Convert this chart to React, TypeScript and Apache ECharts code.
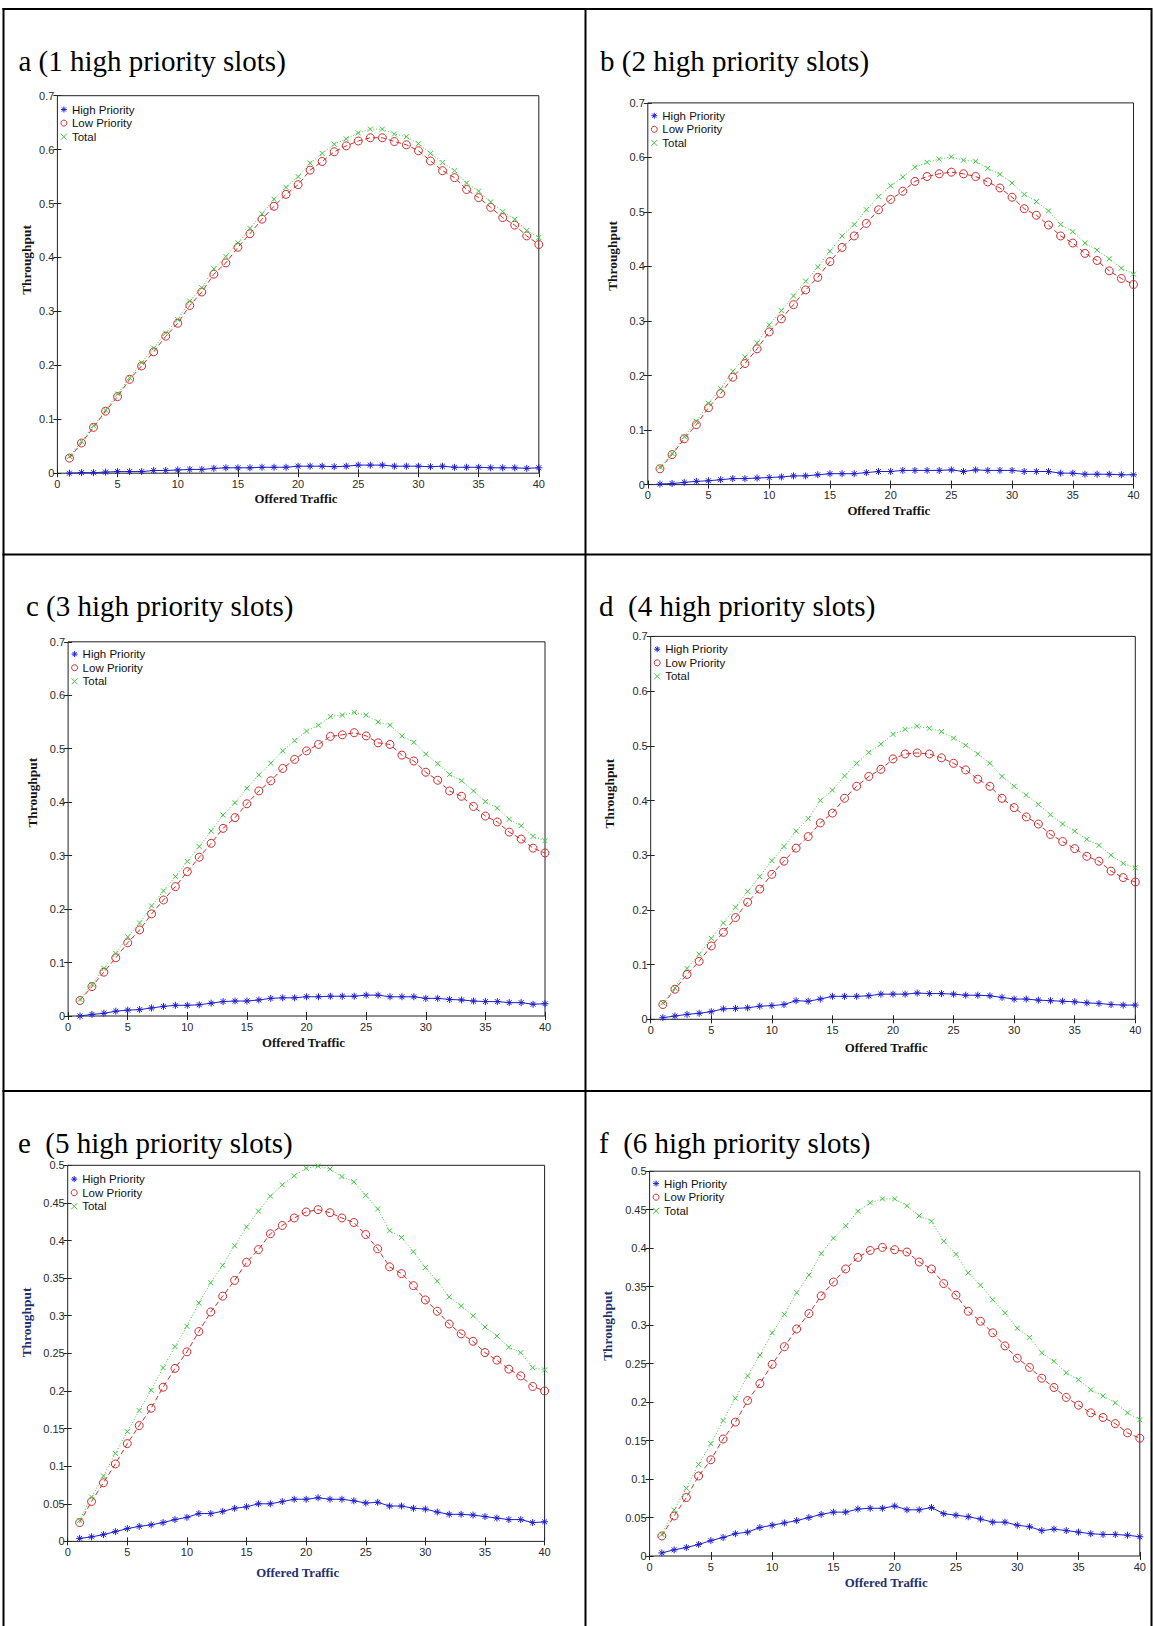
import React, { useEffect, useRef } from "react";
import * as echarts from "echarts";

// Offered traffic (x axis) shared by every panel
const OFFERED = [1, 2, 3, 4, 5, 6, 7, 8, 9, 10, 11, 12, 13, 14, 15, 16, 17, 18, 19, 20,
  21, 22, 23, 24, 25, 26, 27, 28, 29, 30, 31, 32, 33, 34, 35, 36, 37, 38, 39, 40];

// a — 1 high priority slot
const HIGH_A = [0.000, 0.001, 0.001, 0.002, 0.003, 0.003, 0.003, 0.005, 0.005, 0.006, 0.007, 0.007, 0.009, 0.010, 0.010, 0.010, 0.011, 0.011, 0.011, 0.013,
  0.013, 0.013, 0.012, 0.013, 0.015, 0.015, 0.015, 0.013, 0.013, 0.013, 0.012, 0.013, 0.011, 0.011, 0.011, 0.010, 0.010, 0.010, 0.009, 0.010];
const LOW_A = [0.028, 0.056, 0.085, 0.115, 0.142, 0.174, 0.199, 0.225, 0.254, 0.278, 0.311, 0.336, 0.369, 0.390, 0.419, 0.444, 0.471, 0.495, 0.517, 0.535,
  0.562, 0.578, 0.596, 0.607, 0.616, 0.622, 0.622, 0.615, 0.609, 0.598, 0.579, 0.561, 0.548, 0.526, 0.511, 0.493, 0.474, 0.460, 0.440, 0.424];
const TOTAL_A = [0.031, 0.059, 0.088, 0.117, 0.147, 0.177, 0.205, 0.232, 0.260, 0.285, 0.319, 0.344, 0.379, 0.402, 0.427, 0.454, 0.481, 0.508, 0.530, 0.550,
  0.575, 0.593, 0.610, 0.620, 0.631, 0.638, 0.638, 0.629, 0.624, 0.611, 0.593, 0.576, 0.561, 0.538, 0.523, 0.503, 0.485, 0.471, 0.450, 0.437];

// b — 2 high priority slots
const HIGH_B = [0.001, 0.002, 0.004, 0.006, 0.007, 0.009, 0.011, 0.011, 0.012, 0.013, 0.014, 0.016, 0.016, 0.018, 0.020, 0.020, 0.020, 0.022, 0.024, 0.024,
  0.026, 0.026, 0.026, 0.026, 0.027, 0.024, 0.027, 0.026, 0.026, 0.026, 0.024, 0.024, 0.024, 0.021, 0.021, 0.019, 0.019, 0.019, 0.018, 0.018];
const LOW_B = [0.029, 0.055, 0.084, 0.110, 0.141, 0.167, 0.197, 0.222, 0.249, 0.280, 0.304, 0.330, 0.357, 0.380, 0.409, 0.435, 0.456, 0.479, 0.504, 0.523,
  0.538, 0.556, 0.565, 0.570, 0.573, 0.570, 0.565, 0.555, 0.544, 0.527, 0.506, 0.494, 0.476, 0.456, 0.443, 0.424, 0.411, 0.392, 0.378, 0.367];
const TOTAL_B = [0.032, 0.057, 0.088, 0.116, 0.149, 0.176, 0.208, 0.234, 0.260, 0.293, 0.319, 0.346, 0.373, 0.399, 0.428, 0.456, 0.477, 0.504, 0.528, 0.548,
  0.564, 0.582, 0.591, 0.597, 0.601, 0.595, 0.593, 0.580, 0.569, 0.553, 0.532, 0.519, 0.502, 0.477, 0.464, 0.443, 0.430, 0.414, 0.397, 0.386];

// c — 3 high priority slots
const HIGH_C = [0.000, 0.003, 0.005, 0.009, 0.011, 0.012, 0.015, 0.018, 0.020, 0.020, 0.021, 0.024, 0.027, 0.028, 0.028, 0.030, 0.033, 0.034, 0.034, 0.036,
  0.036, 0.037, 0.037, 0.037, 0.039, 0.039, 0.036, 0.036, 0.036, 0.033, 0.033, 0.031, 0.030, 0.028, 0.027, 0.027, 0.025, 0.025, 0.022, 0.023];
const LOW_C = [0.029, 0.055, 0.082, 0.109, 0.137, 0.161, 0.191, 0.217, 0.242, 0.270, 0.297, 0.323, 0.351, 0.371, 0.397, 0.421, 0.440, 0.463, 0.480, 0.496,
  0.508, 0.523, 0.526, 0.530, 0.524, 0.511, 0.508, 0.488, 0.477, 0.456, 0.441, 0.421, 0.411, 0.392, 0.374, 0.363, 0.344, 0.331, 0.314, 0.305];
const TOTAL_C = [0.031, 0.059, 0.089, 0.117, 0.148, 0.174, 0.206, 0.234, 0.261, 0.289, 0.317, 0.346, 0.376, 0.399, 0.426, 0.451, 0.473, 0.496, 0.515, 0.533,
  0.544, 0.560, 0.563, 0.568, 0.563, 0.550, 0.544, 0.524, 0.512, 0.490, 0.472, 0.452, 0.440, 0.421, 0.401, 0.389, 0.368, 0.356, 0.336, 0.328];

// d — 4 high priority slots
const HIGH_D = [0.003, 0.006, 0.009, 0.011, 0.014, 0.019, 0.020, 0.021, 0.024, 0.025, 0.027, 0.034, 0.033, 0.037, 0.042, 0.042, 0.042, 0.043, 0.046, 0.046,
  0.046, 0.048, 0.047, 0.047, 0.046, 0.044, 0.044, 0.043, 0.040, 0.037, 0.037, 0.035, 0.034, 0.033, 0.032, 0.030, 0.029, 0.027, 0.026, 0.026];
const LOW_D = [0.027, 0.055, 0.082, 0.106, 0.134, 0.159, 0.186, 0.214, 0.238, 0.265, 0.289, 0.313, 0.334, 0.359, 0.377, 0.404, 0.426, 0.444, 0.457, 0.476,
  0.485, 0.487, 0.485, 0.478, 0.468, 0.456, 0.439, 0.426, 0.404, 0.387, 0.370, 0.357, 0.338, 0.325, 0.312, 0.298, 0.289, 0.271, 0.259, 0.251];
const TOTAL_D = [0.030, 0.057, 0.093, 0.119, 0.148, 0.176, 0.205, 0.234, 0.261, 0.290, 0.316, 0.344, 0.367, 0.400, 0.419, 0.445, 0.468, 0.488, 0.503, 0.521,
  0.530, 0.536, 0.532, 0.526, 0.514, 0.501, 0.485, 0.468, 0.444, 0.426, 0.410, 0.393, 0.374, 0.357, 0.344, 0.329, 0.318, 0.300, 0.285, 0.277];

// e — 5 high priority slots
const HIGH_E = [0.004, 0.006, 0.009, 0.013, 0.017, 0.020, 0.022, 0.025, 0.029, 0.032, 0.037, 0.037, 0.040, 0.044, 0.046, 0.050, 0.050, 0.053, 0.056, 0.056,
  0.058, 0.056, 0.056, 0.054, 0.051, 0.052, 0.047, 0.047, 0.044, 0.043, 0.039, 0.036, 0.036, 0.035, 0.033, 0.031, 0.029, 0.029, 0.025, 0.026];
const LOW_E = [0.025, 0.053, 0.078, 0.103, 0.130, 0.154, 0.177, 0.205, 0.230, 0.252, 0.279, 0.305, 0.326, 0.347, 0.371, 0.388, 0.409, 0.420, 0.430, 0.438,
  0.441, 0.437, 0.430, 0.424, 0.408, 0.389, 0.365, 0.356, 0.340, 0.321, 0.306, 0.289, 0.276, 0.266, 0.251, 0.241, 0.229, 0.220, 0.206, 0.200];
const TOTAL_E = [0.028, 0.059, 0.087, 0.117, 0.146, 0.174, 0.201, 0.231, 0.259, 0.286, 0.317, 0.344, 0.367, 0.393, 0.418, 0.439, 0.459, 0.474, 0.486, 0.496,
  0.499, 0.495, 0.485, 0.478, 0.460, 0.442, 0.413, 0.404, 0.385, 0.364, 0.346, 0.325, 0.313, 0.300, 0.285, 0.273, 0.258, 0.251, 0.231, 0.228];

// f — 6 high priority slots
const HIGH_F = [0.004, 0.008, 0.011, 0.015, 0.020, 0.024, 0.029, 0.031, 0.037, 0.040, 0.043, 0.046, 0.050, 0.054, 0.057, 0.057, 0.061, 0.062, 0.062, 0.065,
  0.060, 0.060, 0.063, 0.055, 0.053, 0.051, 0.048, 0.044, 0.044, 0.040, 0.038, 0.033, 0.035, 0.033, 0.031, 0.029, 0.028, 0.028, 0.027, 0.025];
const LOW_F = [0.026, 0.052, 0.076, 0.104, 0.125, 0.152, 0.174, 0.202, 0.224, 0.249, 0.272, 0.295, 0.315, 0.338, 0.356, 0.373, 0.388, 0.397, 0.401, 0.398,
  0.395, 0.382, 0.373, 0.354, 0.339, 0.318, 0.305, 0.290, 0.273, 0.257, 0.245, 0.231, 0.219, 0.206, 0.196, 0.186, 0.180, 0.172, 0.160, 0.153];
const TOTAL_F = [0.028, 0.060, 0.088, 0.119, 0.146, 0.176, 0.205, 0.234, 0.261, 0.290, 0.314, 0.342, 0.365, 0.393, 0.413, 0.429, 0.448, 0.459, 0.464, 0.464,
  0.455, 0.442, 0.435, 0.409, 0.392, 0.368, 0.352, 0.333, 0.316, 0.296, 0.284, 0.264, 0.253, 0.238, 0.229, 0.216, 0.208, 0.199, 0.186, 0.177];

const TITLES = [
  "a (1 high priority slots)",
  "b (2 high priority slots)",
  "c (3 high priority slots)",
  "d  (4 high priority slots)",
  "e  (5 high priority slots)",
  "f  (6 high priority slots)",
];
const SERIES_NAMES = ["High Priority", "Low Priority", "Total"];
const X_AXIS_NAME = "Offered Traffic";
const Y_AXIS_NAME = "Throughput";
const X_MAX = 40;
const X_STEP = 5;
const Y_MAX = [0.7, 0.7, 0.7, 0.7, 0.5, 0.5];
const Y_STEP = [0.1, 0.1, 0.1, 0.1, 0.05, 0.05];

const HIGH = [HIGH_A, HIGH_B, HIGH_C, HIGH_D, HIGH_E, HIGH_F];
const LOW = [LOW_A, LOW_B, LOW_C, LOW_D, LOW_E, LOW_F];
const TOTAL = [TOTAL_A, TOTAL_B, TOTAL_C, TOTAL_D, TOTAL_E, TOTAL_F];

// Page geometry of each cell: plot box, title, axis names, legend
const LAYOUT = [
  { l: 57.4, t: 95.7, r: 538.8, b: 473.2, tx: 18.4, ty: 70.7, yx: 26, yy: 260, xx: 296, xy: 499, lg: 14 },
  { l: 647.8, t: 102.9, r: 1133.5, b: 484.6, tx: 600, ty: 70.7, yx: 612.8, yy: 256, xx: 888.8, xy: 510.7, lg: 13 },
  { l: 68.1, t: 641.8, r: 545, b: 1016, tx: 26, ty: 616, yx: 32.5, yy: 792.7, xx: 303.5, xy: 1042.9, lg: 12.5 },
  { l: 650.7, t: 636.4, r: 1135.3, b: 1019.3, tx: 599, ty: 616, yx: 609.9, yy: 793.6, xx: 886.2, xy: 1047.9, lg: 13 },
  { l: 67.7, t: 1165.3, r: 544.6, b: 1541.4, tx: 18, ty: 1153, yx: 26, yy: 1322.5, xx: 297.7, xy: 1572.7, lg: 14 },
  { l: 649.6, t: 1171.2, r: 1139.8, b: 1556, tx: 599, ty: 1153, yx: 607.3, yy: 1326, xx: 886.2, xy: 1583.1, lg: 12.6 },
];
const NAME_COLORS = ["#151515", "#151515", "#151515", "#151515", "#22306c", "#22306c"];

const W = 1153;
const H = 1626;
const BLUE = "#1e1ed2";
const RED = "#d02c2c";
const GREEN = "#3cc63c";
const FRAME = "#222";
const STAR = "path://M0 5L10 5M5 0L5 10M1.5 1.5L8.5 8.5M8.5 1.5L1.5 8.5";
const CROSS = "path://M0 0L10 10M10 0L0 10";
const SANS = "'Liberation Sans', Arial, sans-serif";
const SERIF = "'Liberation Serif', 'Times New Roman', serif";

function buildOption() {
  const grid: any[] = [];
  const xAxis: any[] = [];
  const yAxis: any[] = [];
  const series: any[] = [];
  const legend: any[] = [];
  const graphic: any[] = [];

  const tick = { inside: true, length: 4, lineStyle: { color: FRAME, width: 1 } };
  const label = { color: "#2a2a2a", fontSize: 11, fontFamily: SANS };

  LAYOUT.forEach((L, i) => {
    grid.push({
      left: L.l, top: L.t, width: L.r - L.l, height: L.b - L.t,
      show: true, borderColor: FRAME, borderWidth: 1, backgroundColor: "#fff",
    });
    const xBase = { gridIndex: i, type: "value", min: 0, max: X_MAX, interval: X_STEP, axisLine: { show: false }, splitLine: { show: false }, axisTick: tick };
    xAxis.push({ ...xBase, position: "bottom", axisLabel: { ...label, margin: 5 } });
    xAxis.push({ ...xBase, position: "top", axisLabel: { show: false } });
    const yBase = { gridIndex: i, type: "value", min: 0, max: Y_MAX[i], interval: Y_STEP[i], axisLine: { show: false }, splitLine: { show: false }, axisTick: tick };
    yAxis.push({ ...yBase, position: "left", axisLabel: { ...label, margin: 3 } });
    yAxis.push({ ...yBase, position: "right", axisLabel: { show: false } });

    const pts = (vals: number[]) => OFFERED.map((x, k) => [x, vals[k]]);
    series.push({
      name: SERIES_NAMES[0], type: "line", xAxisIndex: 2 * i, yAxisIndex: 2 * i,
      data: pts(HIGH[i]), symbol: STAR, symbolSize: 7,
      itemStyle: { color: BLUE, borderColor: BLUE, borderWidth: 1 },
      lineStyle: { color: BLUE, width: 1 },
    });
    series.push({
      name: SERIES_NAMES[1], type: "line", xAxisIndex: 2 * i, yAxisIndex: 2 * i,
      data: pts(LOW[i]), symbol: "circle", symbolSize: 8,
      itemStyle: { color: "rgba(0,0,0,0)", borderColor: RED, borderWidth: 1 },
      lineStyle: { color: RED, width: 1, type: [5, 3] },
    });
    series.push({
      name: SERIES_NAMES[2], type: "line", xAxisIndex: 2 * i, yAxisIndex: 2 * i,
      data: pts(TOTAL[i]), symbol: CROSS, symbolSize: 5,
      itemStyle: { color: GREEN, borderColor: GREEN, borderWidth: 1 },
      lineStyle: { color: GREEN, width: 1, type: [1, 2] },
    });

    legend.push({
      orient: "vertical", left: L.l + 3, top: L.t + L.lg - 6.7, padding: 0,
      itemGap: 0.6, itemWidth: 6, itemHeight: 6, selectedMode: false,
      textStyle: { fontSize: 11.5, fontFamily: SANS, color: "#111", lineHeight: 13 },
      data: [
        { name: SERIES_NAMES[0], icon: STAR, itemStyle: { color: BLUE, borderColor: BLUE, borderWidth: 1 } },
        { name: SERIES_NAMES[1], icon: "circle", itemStyle: { color: "rgba(0,0,0,0)", borderColor: RED, borderWidth: 1 } },
        { name: SERIES_NAMES[2], icon: CROSS, itemStyle: { color: GREEN, borderColor: GREEN, borderWidth: 1 } },
      ],
    });

    graphic.push({
      type: "text", x: L.tx, y: L.ty - 10,
      style: { text: TITLES[i], fill: "#000", fontSize: 29, fontFamily: SERIF, align: "left", verticalAlign: "middle" },
    });
    graphic.push({
      type: "text", x: L.yx, y: L.yy, rotation: Math.PI / 2,
      style: { text: Y_AXIS_NAME, fill: NAME_COLORS[i], fontSize: 13.4, fontWeight: "bold", fontFamily: SERIF, align: "center", verticalAlign: "middle" },
    });
    graphic.push({
      type: "text", x: L.xx, y: L.xy,
      style: { text: X_AXIS_NAME, fill: NAME_COLORS[i], fontSize: 12.8, fontWeight: "bold", fontFamily: SERIF, align: "center", verticalAlign: "middle" },
    });
  });

  // Table rules around the six cells
  const rule = (x1: number, y1: number, x2: number, y2: number) => ({
    type: "line", shape: { x1, y1, x2, y2 }, style: { stroke: "#000", lineWidth: 2 }, z: 10,
  });
  graphic.push(rule(2.5, 9, 1152, 9));
  graphic.push(rule(2.5, 554.5, 1152, 554.5));
  graphic.push(rule(2.5, 1091, 1152, 1091));
  graphic.push(rule(3.5, 8, 3.5, H));
  graphic.push(rule(585.5, 8, 585.5, H));
  graphic.push(rule(1151.5, 8, 1151.5, H));

  return {
    animation: false,
    backgroundColor: "#fff",
    grid, xAxis, yAxis, series, legend, graphic,
  };
}

export default function App() {
  const ref = useRef<HTMLDivElement>(null);
  useEffect(() => {
    if (!ref.current) return;
    const chart = echarts.init(ref.current, undefined, { renderer: "svg" });
    chart.setOption(buildOption() as any);
    return () => chart.dispose();
  }, []);
  return (
    <div
      ref={ref}
      style={{ position: "absolute", left: 0, top: 0, width: W, height: H, background: "#fff" }}
    />
  );
}
